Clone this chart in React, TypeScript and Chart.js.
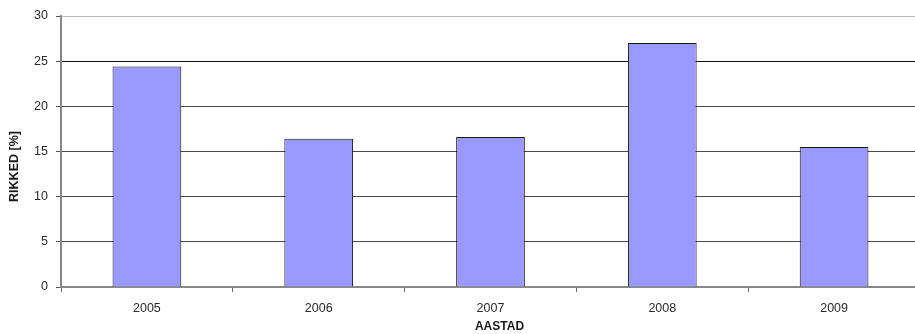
import React, { useEffect, useRef } from "react";
import { Chart, registerables } from "chart.js";

Chart.register(...registerables);

const categories = ["2005", "2006", "2007", "2008", "2009"];
const values = [24.4, 16.4, 16.6, 27.0, 15.5];
const yTicks = [0, 5, 10, 15, 20, 25, 30];
const yTitle = "RIKKED [%]";
const xTitle = "AASTAD";

const FONT = "'Liberation Sans', Arial, sans-serif";

const titlesPlugin = {
  id: "axisTitles",
  afterDraw(chart: any) {
    const ctx = chart.ctx;
    const area = chart.chartArea;
    ctx.save();
    ctx.fillStyle = "#1a1a1a";
    ctx.font = `bold 12.5px ${FONT}`;
    ctx.textAlign = "center";
    ctx.textBaseline = "middle";
    ctx.translate(15, (area.top + area.bottom) / 2 + 15);
    ctx.rotate(-Math.PI / 2);
    ctx.fillText(yTitle, 0, 0);
    ctx.restore();

    ctx.save();
    ctx.fillStyle = "#1a1a1a";
    ctx.font = `bold 12px ${FONT}`;
    ctx.textAlign = "center";
    ctx.textBaseline = "middle";
    ctx.fillText(xTitle, (area.left + area.right) / 2 + 9, 327);
    ctx.restore();
  },
};

export default function App() {
  const ref = useRef<HTMLCanvasElement>(null);
  useEffect(() => {
    if (!ref.current) return;
    const chart = new Chart(ref.current, {
      type: "bar",
      data: {
        labels: categories,
        datasets: [
          {
            data: values,
            backgroundColor: "#9999ff",
            borderColor: "#1a1a1a",
            borderWidth: 1,
            barPercentage: 0.4,
            categoryPercentage: 1,
          },
        ],
      },
      options: {
        animation: false,
        responsive: false,
        maintainAspectRatio: false,
        layout: { padding: { top: 16, right: 10, left: 0, bottom: 0 } },
        plugins: {
          legend: { display: false },
          tooltip: { enabled: false },
        },
        scales: {
          x: {
            offset: true,
            grid: {
              offset: true,
              drawOnChartArea: false,
              drawTicks: true,
              tickLength: 5,
              color: "#666666",
            },
            border: { color: "#888888", width: 2 },
            ticks: {
              color: "#2a2a2a",
              font: { family: FONT, size: 12.5 },
              padding: 9,
              maxRotation: 0,
            },
            afterFit: (s: any) => {
              s.height = 47;
            },
          },
          y: {
            min: 0,
            max: 30,
            afterBuildTicks: (s: any) => {
              s.ticks = yTicks.map((v) => ({ value: v }));
            },
            grid: {
              color: (c: any) => {
                const v = c.tick ? c.tick.value : 0;
                if (v === 30) return "#bbbbbb";
                if (v === 25) return "#111111";
                if (v === 0) return "#888888";
                return "#4a4a4a";
              },
              tickLength: 5,
              tickColor: "#555555",
            },
            border: { color: "#888888", width: 2 },
            ticks: {
              color: "#2a2a2a",
              font: { family: FONT, size: 12.5 },
              padding: 8,
            },
            afterFit: (s: any) => {
              s.width = 61;
            },
          },
        },
      },
      plugins: [titlesPlugin],
    });
    return () => chart.destroy();
  }, []);
  return (
    <div
      style={{
        position: "fixed",
        left: 0,
        top: 0,
        width: 915,
        height: 334,
        overflow: "hidden",
        background: "#ffffff",
      }}
    >
      <canvas ref={ref} width={930} height={334} style={{ display: "block" }} />
    </div>
  );
}
